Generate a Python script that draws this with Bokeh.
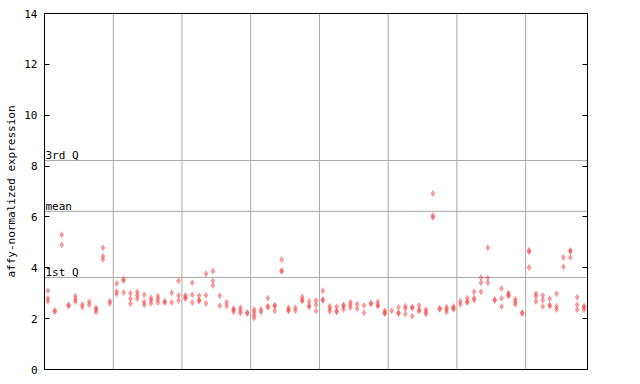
from bokeh.plotting import figure
from bokeh.models import Range1d, LinearAxis, FixedTicker, Span, Label, ColumnDataSource, CustomJSTickFormatter
from bokeh.embed import file_html
from bokeh.resources import INLINE

# expression values per sample (replicates)
samples = [
    [3.10, 2.80, 2.68], [2.32, 2.27], [5.30, 4.91], [2.54, 2.50], [2.89, 2.76, 2.66],
    [2.56, 2.46], [2.66, 2.55], [2.42, 2.36, 2.26], [4.79, 4.45, 4.33], [2.68, 2.60],
    [3.38, 3.07, 2.97], [3.55, 3.50, 3.03], [3.00, 2.78, 2.60], [3.05, 2.92, 2.78], [2.94, 2.65, 2.55],
    [2.81, 2.72, 2.61], [2.88, 2.76, 2.63], [2.67, 2.63], [3.02, 2.63], [3.49, 2.91, 2.71],
    [2.91, 2.83, 2.79], [3.41, 2.94, 2.63], [2.91, 2.73, 2.69], [3.77, 2.92, 2.60], [3.86, 3.49, 3.30],
    [2.90, 2.51], [2.64, 2.50], [2.39, 2.35, 2.27], [2.43, 2.32, 2.22], [2.24, 2.20],
    [2.36, 2.26, 2.13, 2.03], [2.36, 2.26], [2.80, 2.49, 2.45], [2.53, 2.49, 2.31], [4.33, 3.89, 3.85],
    [2.43, 2.34, 2.30], [2.43, 2.31], [2.85, 2.73, 2.69], [2.67, 2.51, 2.47], [2.71, 2.55, 2.30],
    [3.10, 2.75, 2.71], [2.49, 2.39, 2.28], [2.47, 2.30, 2.26], [2.54, 2.50, 2.36], [2.65, 2.55, 2.44],
    [2.57, 2.39], [2.52, 2.23], [2.62, 2.58], [2.65, 2.53, 2.50], [2.31, 2.22, 2.20],
    [2.31], [2.45, 2.23, 2.20], [2.49, 2.39, 2.18], [2.46, 2.42, 2.09], [2.52, 2.34, 2.30],
    [2.36, 2.26, 2.18], [6.92, 6.06, 5.98], [2.41, 2.37], [2.45, 2.36, 2.26], [2.48, 2.41, 2.37],
    [2.68, 2.57], [2.80, 2.67, 2.63], [3.06, 2.81, 2.73], [3.62, 3.41, 3.06], [4.79, 3.60, 3.41],
    [2.75, 2.71], [3.19, 2.80, 2.48], [3.01, 2.93, 2.89], [2.76, 2.65, 2.57], [2.24, 2.20],
    [4.69, 4.62, 4.01], [2.98, 2.88, 2.67], [2.91, 2.72, 2.48], [2.78, 2.54, 2.50], [2.98, 2.48, 2.36],
    [4.40, 4.04], [4.68, 4.64, 4.40], [2.84, 2.55, 2.35], [2.49, 2.45, 2.34],
]
group_size = 10
y_ticks = [0, 2, 4, 6, 8, 10, 12, 14]
quartile_names = ["1st Q", "mean", "3rd Q"]
quartile_values = [3.62, 6.22, 8.22]
y_label = "affy-normalized expression"

xs, ys = [], []
for i, vals in enumerate(samples):
    for v in vals:
        xs.append(i)
        ys.append(v)
n = len(samples)
src = ColumnDataSource(dict(x=xs, y=ys))

FONT = "DejaVu Sans Mono"
GRID = "#a8a8a8"

p = figure(output_backend="svg", toolbar_location=None,
           frame_width=543, frame_height=356,
           x_range=Range1d(-0.5, n - 0.5), y_range=Range1d(y_ticks[0], y_ticks[-1]),
           x_axis_location=None)
p.min_border = 0
p.min_border_left = 44
p.min_border_top = 13
p.min_border_right = 20
p.min_border_bottom = 10
p.background_fill_color = "white"
p.border_fill_color = "white"
p.outline_line_color = "black"
p.outline_line_alpha = 1
p.outline_line_width = 1
p.xgrid.visible = False
p.ygrid.visible = False

ax = p.yaxis[0]
ax.ticker = FixedTicker(ticks=y_ticks)
ax.axis_line_color = "black"
ax.major_tick_in = 5
ax.major_tick_out = 0
ax.major_tick_line_color = "black"
ax.minor_tick_line_color = None
ax.major_label_text_font = FONT
ax.major_label_text_font_size = "11px"
ax.major_label_text_color = "black"
ax.major_label_standoff = 7
ax.axis_label = y_label
ax.axis_label_text_font = FONT
ax.axis_label_text_font_size = "11px"
ax.axis_label_text_font_style = "normal"
ax.axis_label_text_color = "black"
ax.axis_label_standoff = 3

rax = LinearAxis(ticker=FixedTicker(ticks=y_ticks), major_tick_in=5, major_tick_out=0,
                 minor_tick_line_color=None,
                 formatter=CustomJSTickFormatter(code="return '';"),
                 major_label_standoff=0, axis_line_color="black", major_tick_line_color="black")
p.add_layout(rax, "right")

for k in range(1, (n - 1) // group_size + 1):
    p.add_layout(Span(location=k * group_size - 0.5, dimension="height",
                      line_color=GRID, line_width=1, level="underlay"))

for name, q in zip(quartile_names, quartile_values):
    p.add_layout(Span(location=q, dimension="width", line_color=GRID, line_width=1, level="underlay"))
    p.add_layout(Label(x=-0.5, y=q, text=name, x_offset=1, y_offset=-1.5,
                       text_baseline="bottom", text_align="left",
                       text_font=FONT, text_font_size="11px", text_color="black"))

p.scatter("x", "y", source=src, marker="diamond", size=7,
          fill_color="#f04848", fill_alpha=0.55, line_color=None)

open("out.html", "w").write(file_html(p, INLINE))
